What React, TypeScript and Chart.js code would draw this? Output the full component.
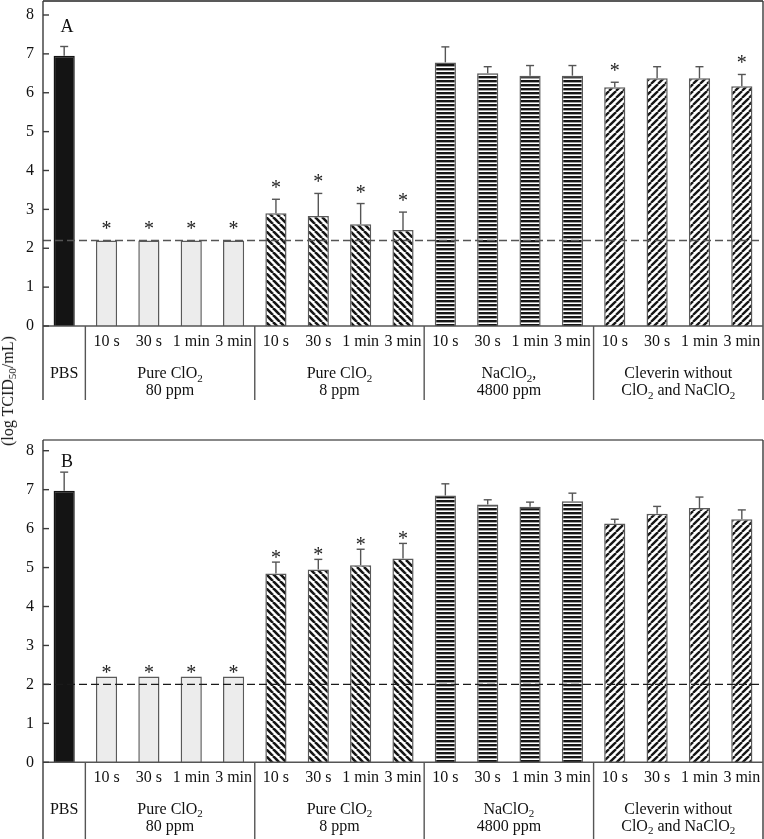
import React, { useEffect, useRef } from "react";
import { Chart, registerables } from "chart.js";

Chart.register(...registerables);

const FONT = '"Liberation Serif", "Times New Roman", serif';

// ---------- data ----------
const timeLabels = [
  "", "10 s", "30 s", "1 min", "3 min",
  "10 s", "30 s", "1 min", "3 min",
  "10 s", "30 s", "1 min", "3 min",
  "10 s", "30 s", "1 min", "3 min",
];
const yTickValues = [0, 1, 2, 3, 4, 5, 6, 7, 8];
const groupStarts = [0, 1, 5, 9, 13];
const groupEnds = [0, 4, 8, 12, 16];
const groupLabelsA = [
  ["PBS"],
  ["Pure ClO_2", "80 ppm"],
  ["Pure ClO_2", "8 ppm"],
  ["NaClO_2,", "4800 ppm"],
  ["Cleverin without", "ClO_2 and NaClO_2"],
];
const groupLabelsB = [
  ["PBS"],
  ["Pure ClO_2", "80 ppm"],
  ["Pure ClO_2", "8 ppm"],
  ["NaClO_2", "4800 ppm"],
  ["Cleverin without", "ClO_2 and NaClO_2"],
];
const fillKinds = [
  "solid", "light", "light", "light", "light",
  "back", "back", "back", "back",
  "horiz", "horiz", "horiz", "horiz",
  "fwd", "fwd", "fwd", "fwd",
];

const valuesA = [6.95, 2.2, 2.2, 2.2, 2.2, 2.9, 2.83, 2.62, 2.47, 6.78, 6.5, 6.44, 6.44, 6.14, 6.37, 6.37, 6.17];
const errorsA = [0.24, 0, 0, 0, 0, 0.36, 0.58, 0.53, 0.46, 0.4, 0.17, 0.26, 0.26, 0.13, 0.3, 0.3, 0.3];
const starsA = [0, 1, 1, 1, 1, 1, 1, 1, 1, 0, 0, 0, 0, 1, 0, 0, 1];
const thresholdA = 2.2;

const valuesB = [6.97, 2.2, 2.2, 2.2, 2.2, 4.85, 4.95, 5.06, 5.23, 6.85, 6.62, 6.56, 6.7, 6.13, 6.38, 6.53, 6.24];
const errorsB = [0.48, 0, 0, 0, 0, 0.29, 0.26, 0.41, 0.39, 0.3, 0.12, 0.12, 0.21, 0.11, 0.19, 0.28, 0.24];
const starsB = [0, 1, 1, 1, 1, 1, 1, 1, 1, 0, 0, 0, 0, 0, 0, 0, 0];
const thresholdB = 2.0;

// ---------- helpers ----------
function makePattern(kind: string): CanvasPattern | string {
  if (kind === "solid") return "#141414";
  if (kind === "light") return "#ececec";
  const c = document.createElement("canvas");
  const g = c.getContext("2d")!;
  if (kind === "horiz") {
    c.width = 4;
    c.height = 4;
    g.fillStyle = "#ffffff";
    g.fillRect(0, 0, 4, 4);
    g.fillStyle = "#151515";
    g.fillRect(0, 0, 4, 2.4);
  } else {
    const s = 7;
    c.width = s;
    c.height = s;
    g.fillStyle = "#ffffff";
    g.fillRect(0, 0, s, s);
    g.strokeStyle = "#151515";
    g.lineWidth = kind === "back" ? 2.6 : 2.3;
    for (const x0 of [-s, 0, s]) {
      g.beginPath();
      if (kind === "back") {
        g.moveTo(x0, 0);
        g.lineTo(x0 + s, s);
      } else {
        g.moveTo(x0, s);
        g.lineTo(x0 + s, 0);
      }
      g.stroke();
    }
  }
  return g.createPattern(c, "repeat")!;
}

function drawRich(ctx: CanvasRenderingContext2D, text: string, cx: number, cy: number, size: number) {
  const parts = text.split(/_(\d+)/);
  const main = `${size}px ${FONT}`;
  const sub = `${Math.round(size * 0.68)}px ${FONT}`;
  let w = 0;
  parts.forEach((p, i) => {
    ctx.font = i % 2 ? sub : main;
    w += ctx.measureText(p).width;
  });
  let x = cx - w / 2;
  const base = cy + size * 0.33;
  ctx.textAlign = "left";
  ctx.textBaseline = "alphabetic";
  parts.forEach((p, i) => {
    ctx.font = i % 2 ? sub : main;
    ctx.fillText(p, x, i % 2 ? base + size * 0.22 : base);
    x += ctx.measureText(p).width;
  });
}

type PanelStyle = {
  padTop: number;
  xHeight: number;
  yMax: number;
  tableBottom: number;
  starGap: number;
  dashColor: string;
  dashWidth: number;
  topColor: string;
  topWidth: number;
  letter: string;
  row1: number;
  row2: number;
};

function overlayPlugin(style: PanelStyle, errors: number[], stars: number[], threshold: number, groups: string[][]) {
  return {
    id: "overlay" + style.letter,
    afterDraw(chart: any) {
      const { ctx, chartArea: ca, scales } = chart;
      const x = scales.x;
      const y = scales.y;
      const data = chart.data.datasets[0].data as number[];
      const y0 = y.getPixelForValue(0);
      const line = (x1: number, y1: number, x2: number, y2: number) => {
        ctx.beginPath();
        ctx.moveTo(x1, y1);
        ctx.lineTo(x2, y2);
        ctx.stroke();
      };
      ctx.save();
      ctx.lineCap = "butt";
      // dashed detection limit line
      ctx.setLineDash([8, 4]);
      ctx.strokeStyle = style.dashColor;
      ctx.lineWidth = style.dashWidth;
      const yt = y.getPixelForValue(threshold);
      line(ca.left, yt, ca.right, yt);
      ctx.setLineDash([]);

      // frame
      ctx.strokeStyle = style.topColor;
      ctx.lineWidth = style.topWidth;
      line(ca.left, ca.top, ca.right, ca.top);
      ctx.strokeStyle = "#3a3a3a";
      ctx.lineWidth = 1.4;
      line(ca.left, ca.top, ca.left, style.tableBottom);
      line(ca.right, ca.top, ca.right, style.tableBottom);
      ctx.strokeStyle = "#555";
      line(ca.left, y0, ca.right, y0);
      // y ticks (inward)
      ctx.strokeStyle = "#3a3a3a";
      y.ticks.forEach((t: any) => {
        const py = y.getPixelForValue(t.value);
        line(ca.left, py, ca.left + 6, py);
      });
      // group separators
      ctx.strokeStyle = "#555";
      groupStarts.slice(1).forEach((g) => {
        const px = (x.getPixelForValue(g - 1) + x.getPixelForValue(g)) / 2;
        line(px, y0, px, style.tableBottom);
      });

      // error bars
      ctx.strokeStyle = "#555";
      ctx.lineWidth = 1.4;
      data.forEach((v, i) => {
        const e = errors[i];
        if (!e) return;
        const px = x.getPixelForValue(i);
        const top = y.getPixelForValue(v + e);
        line(px, y.getPixelForValue(v), px, top);
        line(px - 4, top, px + 4, top);
      });

      // asterisks
      ctx.fillStyle = "#222";
      ctx.font = `20px ${FONT}`;
      ctx.textAlign = "center";
      ctx.textBaseline = "alphabetic";
      data.forEach((v, i) => {
        if (!stars[i]) return;
        const px = x.getPixelForValue(i);
        const top = y.getPixelForValue(v + errors[i]);
        ctx.fillText("*", px, top - style.starGap + 11);
      });

      // panel letter
      ctx.fillStyle = "#111";
      ctx.font = `18px ${FONT}`;
      ctx.textAlign = "center";
      ctx.textBaseline = "middle";
      ctx.fillText(style.letter, ca.left + 24, y.getPixelForValue(8) + 12);

      // group labels
      ctx.fillStyle = "#111";
      groups.forEach((lines, gi) => {
        const cx = (x.getPixelForValue(groupStarts[gi]) + x.getPixelForValue(groupEnds[gi])) / 2;
        lines.forEach((t, li) => {
          drawRich(ctx, t, cx, y0 + (li === 0 ? style.row1 : style.row2), 16);
        });
      });
      ctx.restore();
    },
  };
}

function buildChart(
  canvas: HTMLCanvasElement,
  values: number[],
  errors: number[],
  stars: number[],
  threshold: number,
  groups: string[][],
  style: PanelStyle
) {
  const fills = fillKinds.map(makePattern);
  const borders = fillKinds.map((k) => (k === "solid" ? "#141414" : "#5a5a5a"));
  return new Chart(canvas, {
    type: "bar",
    data: {
      labels: timeLabels,
      datasets: [
        {
          data: values,
          backgroundColor: fills as any,
          borderColor: borders,
          borderWidth: 1.5,
          barPercentage: 0.5,
          categoryPercentage: 1,
        },
      ],
    },
    options: {
      responsive: false,
      animation: false,
      events: [],
      layout: { padding: { top: style.padTop, right: 1, left: 0, bottom: 0 } },
      plugins: { legend: { display: false }, tooltip: { enabled: false } },
      scales: {
        x: {
          grid: { display: false, drawTicks: false },
          border: { display: false },
          ticks: {
            font: { family: FONT, size: 16 },
            color: "#111",
            padding: 6,
            autoSkip: false,
            maxRotation: 0,
            minRotation: 0,
          },
          afterFit: (s: any) => {
            s.height = style.xHeight;
            s.paddingLeft = 0;
            s.paddingRight = 0;
          },
        },
        y: {
          min: 0,
          max: style.yMax,
          grid: { display: false, drawTicks: false },
          border: { display: false },
          ticks: {
            stepSize: 1,
            includeBounds: false,
            font: { family: FONT, size: 16 },
            color: "#111",
            padding: 9,
          },
          afterBuildTicks: (s: any) => {
            s.ticks = yTickValues.map((v) => ({ value: v }));
          },
          afterFit: (s: any) => {
            s.width = 43;
            s.paddingTop = 0;
            s.paddingBottom = 0;
          },
        },
      },
    },
    plugins: [overlayPlugin(style, errors, stars, threshold, groups)],
  } as any);
}

const styleA: PanelStyle = {
  padTop: 1,
  xHeight: 94,
  yMax: 8.36,
  tableBottom: 400,
  starGap: 16,
  dashColor: "#555",
  dashWidth: 1.5,
  topColor: "#222",
  topWidth: 1.5,
  letter: "A",
  row1: 47,
  row2: 64,
};
const styleB: PanelStyle = {
  padTop: 20,
  xHeight: 76.7,
  yMax: 8.275,
  tableBottom: 419,
  starGap: 9,
  dashColor: "#1a1a1a",
  dashWidth: 1.2,
  topColor: "#888",
  topWidth: 2,
  letter: "B",
  row1: 46,
  row2: 63,
};

export default function App() {
  const refA = useRef<HTMLCanvasElement>(null);
  const refB = useRef<HTMLCanvasElement>(null);
  useEffect(() => {
    const a = buildChart(refA.current!, valuesA, errorsA, starsA, thresholdA, groupLabelsA, styleA);
    const b = buildChart(refB.current!, valuesB, errorsB, starsB, thresholdB, groupLabelsB, styleB);
    return () => {
      a.destroy();
      b.destroy();
    };
  }, []);
  return (
    <div style={{ position: "absolute", left: 0, top: 0, width: 764, height: 839, background: "#fff" }}>
      <canvas ref={refA} width={764} height={420} style={{ position: "absolute", left: 0, top: 0, width: 764, height: 420 }} />
      <canvas ref={refB} width={764} height={419} style={{ position: "absolute", left: 0, top: 420, width: 764, height: 419 }} />
      <div
        style={{
          position: "absolute",
          left: 8,
          top: 391,
          transform: "translate(-50%, -50%) rotate(-90deg)",
          whiteSpace: "nowrap",
          fontFamily: FONT,
          fontSize: 16,
          color: "#111",
          lineHeight: 1,
        }}
      >
        (log TCID<sub style={{ fontSize: 11, verticalAlign: "-3px", lineHeight: 0 }}>50</sub>/mL)
      </div>
    </div>
  );
}
